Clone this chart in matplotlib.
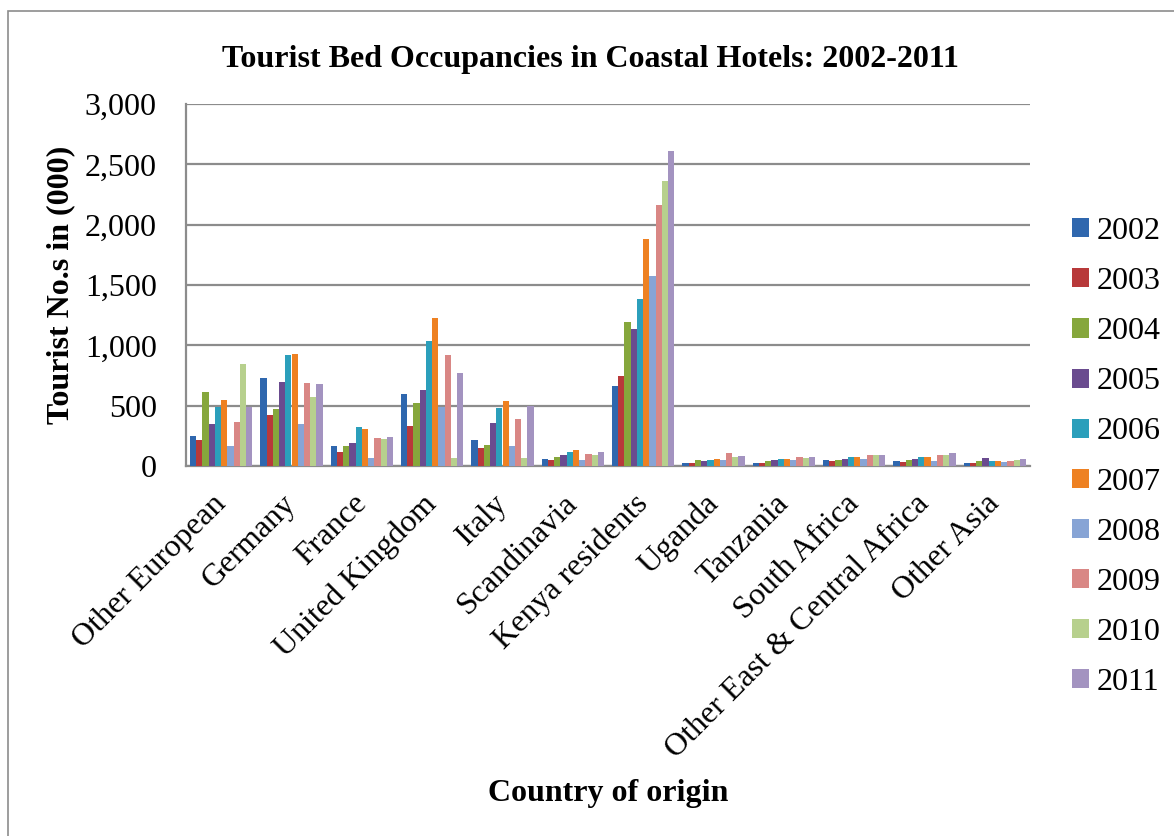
import numpy as np
import matplotlib.pyplot as plt
import matplotlib.transforms as mtransforms
from matplotlib.patches import Rectangle

# Данные (тыс. туристов)
countries = ["Other European", "Germany", "France", "United Kingdom", "Italy",
             "Scandinavia", "Kenya residents", "Uganda", "Tanzania",
             "South Africa", "Other East & Central Africa", "Other Asia"]
years = ["2002", "2003", "2004", "2005", "2006",
         "2007", "2008", "2009", "2010", "2011"]

v2002 = [250, 730, 165, 597, 215, 58, 663, 25, 25, 50, 41, 25]
v2003 = [215, 423, 116, 331, 149, 50, 746, 25, 25, 41, 30, 25]
v2004 = [612, 472, 166, 522, 174, 75, 1193, 50, 45, 50, 50, 41]
v2005 = [348, 696, 190, 630, 356, 91, 1135, 41, 50, 58, 58, 66]
v2006 = [490, 920, 323, 1036, 481, 116, 1384, 50, 58, 75, 75, 41]
v2007 = [545, 928, 307, 1226, 539, 133, 1881, 58, 58, 75, 75, 41]
v2008 = [166, 348, 66, 489, 166, 50, 1574, 50, 50, 58, 41, 33]
v2009 = [365, 688, 232, 920, 389, 99, 2162, 108, 75, 91, 91, 41]
v2010 = [845, 572, 224, 66, 66, 91, 2361, 75, 66, 91, 91, 50]
v2011 = [490, 680, 240, 770, 497, 116, 2610, 83, 75, 91, 108, 58]
series = [v2002, v2003, v2004, v2005, v2006, v2007, v2008, v2009, v2010, v2011]

colors = ["#2f67ae", "#b8393a", "#86a73c", "#6a4b8f", "#2b9fbb",
          "#ee8122", "#87a4d5", "#d98785", "#b7d08d", "#a393c0"]

plt.rcParams['font.family'] = ['Liberation Serif', 'DejaVu Serif']
FS = 23

fig = plt.figure(figsize=(11.74, 8.36), dpi=100)
ax = fig.add_axes([186/1174, 1 - 466/836, (1030 - 186)/1174, (466 - 104)/836])

# рамка вокруг всей диаграммы (видны только верх и левый край)
fig.patches.append(Rectangle((8/1174, -0.1), 1.2, 1 - 11/836 + 0.1,
                             transform=fig.transFigure, fill=False,
                             edgecolor="#8c8c8c", linewidth=1.2))

x = np.arange(len(countries))
n = len(series)
bw = 0.885 / n
for i, vals in enumerate(series):
    ax.bar(x - 0.885/2 + bw*(i + 0.5), vals, width=bw, color=colors[i],
           label=years[i], zorder=3, linewidth=0)

ax.set_xlim(-0.5, len(countries) - 0.5)
ax.set_ylim(0, 3000)
ax.set_yticks(range(0, 3001, 500))
ax.set_yticklabels([f"{t:,}" for t in range(0, 3001, 500)], fontsize=FS)
ax.set_xticks(x)
ax.set_xticklabels(countries, rotation=45, ha='right', rotation_mode='anchor',
                   fontsize=FS)
ax.tick_params(axis='y', length=0, pad=21)
ax.tick_params(axis='x', length=0, pad=8)

# сдвиг подписей оси X влево-вниз, как в оригинале
shift = mtransforms.ScaledTranslation(-10/100, -12/100, fig.dpi_scale_trans)
for lbl in ax.get_xticklabels():
    lbl.set_transform(lbl.get_transform() + shift)

ax.grid(axis='y', color="#8c8c8c", linewidth=1.6, zorder=0)
for s in ['top', 'right']:
    ax.spines[s].set_visible(False)
for s in ['left', 'bottom']:
    ax.spines[s].set_color("#8c8c8c")
    ax.spines[s].set_linewidth(1.6)

fig.text(590/1174, 1 - 60/836, "Tourist Bed Occupancies in Coastal Hotels: 2002-2011",
         ha='center', va='center', fontsize=FS, fontweight='bold')
fig.text(61/1174, 1 - 285/836, "Tourist No.s in (000)", rotation=90,
         ha='center', va='center', fontsize=FS, fontweight='bold')
fig.text(608/1174, 1 - 793/836, "Country of origin",
         ha='center', va='center', fontsize=FS, fontweight='bold')

fig.legend(loc='center left', bbox_to_anchor=(1072/1174, 1 - 457/836),
           frameon=False, fontsize=FS, handlelength=0.54, handleheight=0.54,
           handletextpad=0.22, labelspacing=0.66, borderpad=0, borderaxespad=0)

fig.savefig("out.png", dpi=100)
